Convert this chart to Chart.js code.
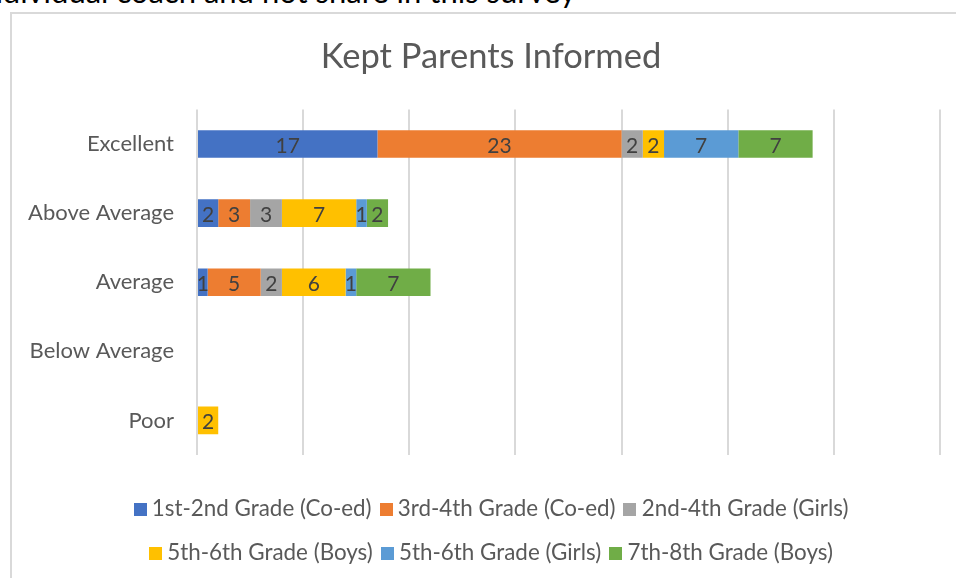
<!DOCTYPE html>
<html>
<head>
<meta charset="utf-8">
<script src="https://cdn.jsdelivr.net/npm/chart.js@4"></script>
<style>
  html, body { margin: 0; padding: 0; background: #fff; overflow: hidden; width: 956px; height: 578px; }
  #topline { position: absolute; right: 380px; top: -24px; font: 31px Lato, sans-serif; line-height: 1; color: #000; white-space: nowrap; }
  #frame { position: absolute; left: 10px; top: 12px; width: 1000px; height: 600px; border: 2px solid #d9d9d9; box-sizing: border-box; }
  #wrap { position: absolute; left: 0; top: 0; width: 956px; height: 581px; }
</style>
</head>
<body>
<div id="topline">individual coach and not share in this survey</div>
<div id="frame"></div>
<div id="wrap"><canvas id="c" width="956" height="581"></canvas></div>
<script>
const chartTitle = 'Kept Parents Informed';
const categories = ['Excellent', 'Above Average', 'Average', 'Below Average', 'Poor'];
const seriesNames = ['1st-2nd Grade (Co-ed)', '3rd-4th Grade (Co-ed)', '2nd-4th Grade (Girls)', '5th-6th Grade (Boys)', '5th-6th Grade (Girls)', '7th-8th Grade (Boys)'];
const grade12CoEd = [17, 2, 1, 0, 0];
const grade34CoEd = [23, 3, 5, 0, 0];
const grade24Girls = [2, 3, 2, 0, 0];
const grade56Boys = [2, 7, 6, 0, 2];
const grade56Girls = [7, 1, 1, 0, 0];
const grade78Boys = [7, 2, 7, 0, 0];
const seriesColors = ['#4472C4', '#ED7D31', '#A5A5A5', '#FFC000', '#5B9BD5', '#70AD47'];
const xTickMax = 70;
const xTickStep = 10;

const seriesValues = [grade12CoEd, grade34CoEd, grade24Girls, grade56Boys, grade56Girls, grade78Boys];

Chart.defaults.font.family = 'Lato, sans-serif';

const dataLabels = {
  id: 'dataLabels',
  afterDatasetsDraw(chart) {
    const ctx = chart.ctx;
    ctx.save();
    ctx.font = '21px Lato, sans-serif';
    ctx.fillStyle = '#404040';
    ctx.textAlign = 'center';
    ctx.textBaseline = 'middle';
    chart.data.datasets.forEach((ds, di) => {
      const meta = chart.getDatasetMeta(di);
      meta.data.forEach((el, i) => {
        const v = ds.data[i];
        if (!v) return;
        const p = el.getCenterPoint();
        ctx.fillText(String(v), p.x, p.y + 2);
      });
    });
    ctx.restore();
  }
};

const legendSquares = {
  id: 'legendSquares',
  afterDraw(chart) {
    const lg = chart.legend;
    if (!lg || !lg.legendHitBoxes) return;
    const ctx = chart.ctx;
    ctx.save();
    lg.legendHitBoxes.forEach((hb, i) => {
      const item = lg.legendItems[i];
      ctx.fillStyle = seriesColors[item.datasetIndex];
      ctx.fillRect(Math.round(hb.left), Math.round(hb.top + hb.height / 2 - 6.5), 13, 13);
    });
    ctx.restore();
  }
};

// let the category labels use the whole left margin (avoid clipping at the scale's left edge)
const widenYLabelArea = {
  id: 'widenYLabelArea',
  afterLayout(chart) {
    chart.scales.y.left = 0;
  }
};

new Chart(document.getElementById('c'), {
  type: 'bar',
  data: {
    labels: categories,
    datasets: seriesNames.map((name, i) => ({
      label: name,
      data: seriesValues[i],
      backgroundColor: seriesColors[i],
      borderWidth: 0,
      categoryPercentage: 1,
      barPercentage: 0.4
    }))
  },
  options: {
    indexAxis: 'y',
    responsive: false,
    animation: false,
    layout: { padding: { left: 42, right: 16, top: 0, bottom: 0 } },
    scales: {
      x: {
        stacked: true,
        min: 0,
        max: xTickMax,
        ticks: { display: false, stepSize: xTickStep },
        grid: { color: '#d9d9d9', lineWidth: 2, drawTicks: false },
        border: { display: false },
        afterFit(scale) { scale.height = 28; }
      },
      y: {
        stacked: true,
        ticks: { color: '#595959', font: { size: 22 }, padding: 23 },
        grid: { display: false, drawTicks: false },
        border: { display: false },
        afterFit(scale) { scale.width = 155; }
      }
    },
    plugins: {
      title: {
        display: true,
        text: chartTitle,
        color: '#595959',
        font: { size: 34.5, weight: 'normal' },
        padding: { top: 36, bottom: 32 }
      },
      legend: {
        position: 'bottom',
        labels: {
          color: '#595959',
          font: { size: 22.4 },
          boxWidth: 7,
          boxHeight: 36,
          padding: 8,
          generateLabels(chart) {
            return Chart.defaults.plugins.legend.labels.generateLabels(chart).map(it => Object.assign(it, {
              fillStyle: 'rgba(0,0,0,0)', strokeStyle: 'rgba(0,0,0,0)', lineWidth: 0
            }));
          }
        }
      },
      tooltip: { enabled: false }
    }
  },
  plugins: [dataLabels, legendSquares, widenYLabelArea]
});
</script>
</body>
</html>
